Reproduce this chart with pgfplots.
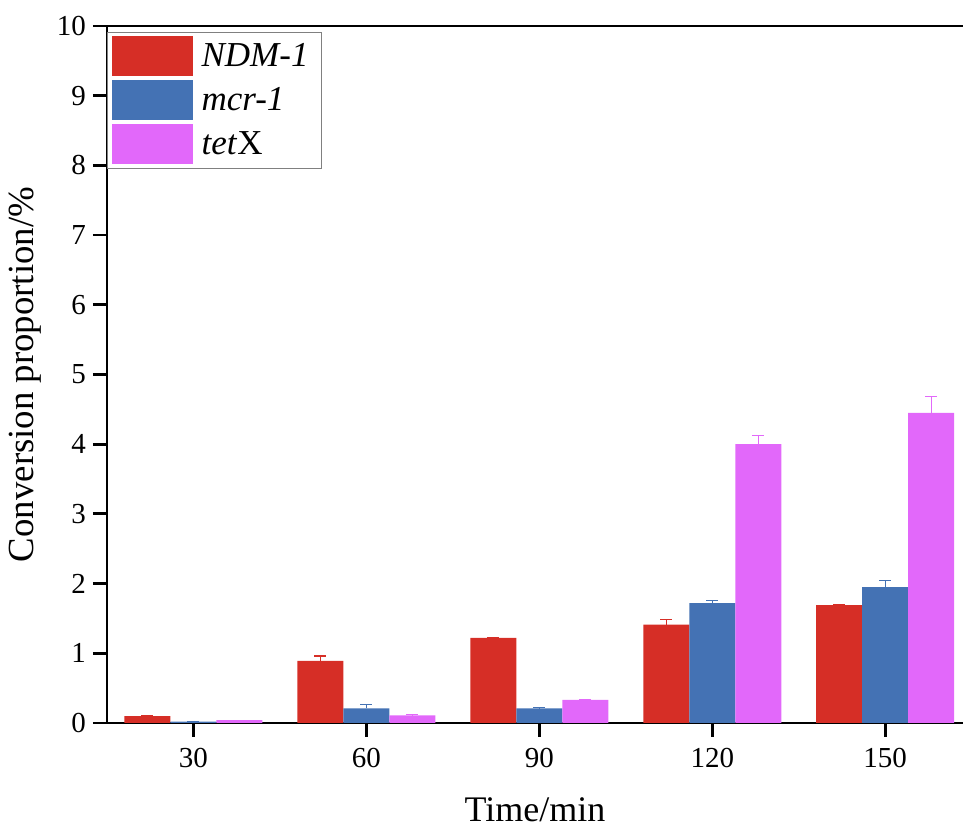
\documentclass[border=0pt]{standalone}
\usepackage{pgfplots}
\pgfplotsset{compat=1.18}
\usepackage{fontspec}
\setmainfont{Liberation Serif}
\definecolor{cred}{RGB}{214,46,38}
\definecolor{cblue}{RGB}{68,114,180}
\definecolor{cmag}{RGB}{226,104,250}
\pgfplotsset{
  swatch/.style={legend image code/.code={\fill[##1] (0pt,-10pt) rectangle (40.5pt,10pt);}}
}
\begin{document}
\begin{tikzpicture}
\useasboundingbox (-53.5pt,-52.5pt) rectangle (428pt,361.5pt);
\begin{axis}[at={(0,0)}, anchor=south west, scale only axis,
  width=428pt, height=348.5pt,
  ybar=0pt, bar width=23pt,
  xmin=-0.5, xmax=4.45, ymin=0, ymax=10,
  axis x line*=box, axis y line*=left,
  axis line style={line width=1.4pt},
  xtick={0,1,2,3,4}, xticklabels={30,60,90,120,150},
  ytick={0,1,...,10},
  tick align=outside, major tick length=7pt,
  tick style={line width=1.4pt, black},
  xtick pos=bottom, ytick pos=left,
  /pgf/number format/assume math mode=true,
  tick label style={font=\fontsize{14.5}{16}\selectfont},
  xticklabel style={yshift=-2pt},
  xlabel={Time/min}, ylabel={Conversion proportion/\%},
  every axis x label/.style={at={(axis description cs:0.5,-0.124)}, anchor=center,
    font=\fontsize{18}{20}\selectfont},
  every axis y label/.style={at={(axis description cs:-0.096,0.5)}, rotate=90, anchor=center,
    font=\fontsize{18.4}{20}\selectfont},
  legend style={at={(axis description cs:0,0.992)}, anchor=north west, draw=gray, line width=0.6pt,
    font=\fontsize{17.5}{20}\selectfont, row sep=2pt, inner sep=2pt,
    legend cell align=left,
    nodes={inner xsep=4.5pt}},
  swatch,
  error bars/y dir=plus, error bars/y explicit,
]
\addplot[fill=cred, draw=none, error bars/error bar style={cred, line width=0.6pt},
  error bars/error mark options={rotate=90, mark size=3pt, cred, line width=0.6pt}]
  coordinates {(0,0.10) +- (0,0) (1,0.89) +- (0,0.07) (2,1.22) +- (0,0.01) (3,1.41) +- (0,0.08) (4,1.69) +- (0,0.01)};
\addlegendentry{\textit{NDM-1}}
\addplot[fill=cblue, draw=none, error bars/error bar style={cblue, line width=0.6pt},
  error bars/error mark options={rotate=90, mark size=3pt, cblue, line width=0.6pt}]
  coordinates {(0,0.02) +- (0,0) (1,0.21) +- (0,0.05) (2,0.21) +- (0,0.01) (3,1.72) +- (0,0.04) (4,1.95) +- (0,0.09)};
\addlegendentry{\textit{mcr-1}}
\addplot[fill=cmag, draw=none, error bars/error bar style={cmag, line width=0.6pt},
  error bars/error mark options={rotate=90, mark size=3pt, cmag, line width=0.6pt}]
  coordinates {(0,0.04) +- (0,0) (1,0.11) +- (0,0.01) (2,0.33) +- (0,0.0) (3,4.00) +- (0,0.13) (4,4.45) +- (0,0.23)};
\addlegendentry{\textit{tet}X}
\end{axis}
\end{tikzpicture}
\end{document}
